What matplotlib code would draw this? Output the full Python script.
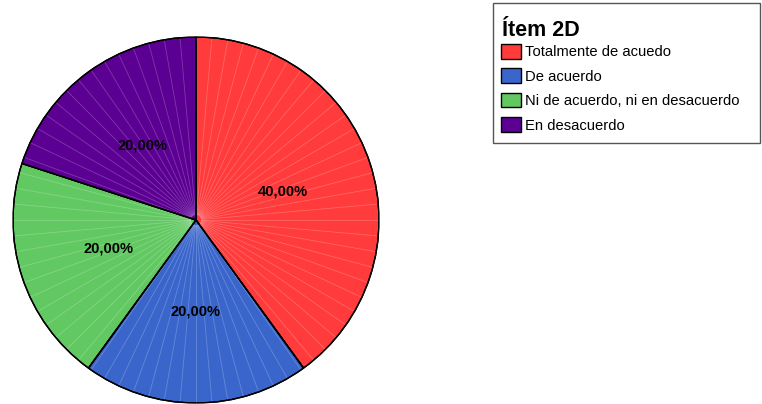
import matplotlib
matplotlib.use("Agg")
import matplotlib.pyplot as plt
import numpy as np
from matplotlib.patches import Patch, Rectangle, Wedge

categories = ["Totalmente de acuedo", "De acuerdo", "Ni de acuerdo, ni en desacuerdo", "En desacuerdo"]
values = [40.0, 20.0, 20.0, 20.0]
colors = ["#FF3B3B", "#3A66CC", "#62C962", "#5C0093"]
legend_title = "Ítem 2D"

plt.rcParams['font.family'] = ['Liberation Sans', 'DejaVu Sans']

W, H = 762, 404
fig = plt.figure(figsize=(W / 100, H / 100), dpi=100)
cx, cy, r = 196, 220, 183
ax = fig.add_axes([(cx - r) / W, (H - cy - r) / H, 2 * r / W, 2 * r / H])

def fmt(p):
    return f"{p:.2f}".replace(".", ",") + "%"

wedges, texts, autotexts = ax.pie(
    values, colors=colors, startangle=90, counterclock=False,
    autopct=fmt, pctdistance=0.5,
    wedgeprops=dict(edgecolor="black", linewidth=1.0),
    textprops=dict(fontsize=10.5, fontweight="bold", color="black"),
)

# faint facet lines of the original rendering
for a in np.arange(0, 360, 5):
    t = np.deg2rad(90 - a)
    ax.plot([0.03 * np.cos(t), 0.995 * np.cos(t)], [0.03 * np.sin(t), 0.995 * np.sin(t)],
            color="white", alpha=0.22, lw=0.6, zorder=1.5)
for w in wedges:
    w.set_zorder(1)
for w in wedges:
    ax.add_patch(Wedge(w.center, w.r, w.theta1, w.theta2, facecolor="none",
                       edgecolor="black", linewidth=1.0, zorder=2))
for t in autotexts:
    t.set_zorder(3)

ax.set_xlim(-1, 1)
ax.set_ylim(-1, 1)
ax.set_aspect("equal")
ax.axis("off")

# legend frame
fig.patches.append(Rectangle((493 / W, 1 - 143 / H), (760 - 493) / W, 140 / H,
                             transform=fig.transFigure, facecolor="white",
                             edgecolor="#555555", linewidth=1.0, zorder=0))
fig.text(502 / W, 1 - 36 / H, legend_title, fontsize=15.5, fontweight="bold",
         ha="left", va="baseline")

handles = [Patch(facecolor=c, edgecolor="black", linewidth=1.0) for c in colors]
leg = fig.legend(handles, categories, loc="upper left",
                 bbox_to_anchor=(501 / W, 1 - 44 / H), bbox_transform=fig.transFigure,
                 fontsize=10.6, frameon=False,
                 handlelength=1.36, handleheight=1.15, handletextpad=0.3,
                 labelspacing=0.62, borderpad=0, borderaxespad=0)

fig.savefig("out.png", dpi=100)
